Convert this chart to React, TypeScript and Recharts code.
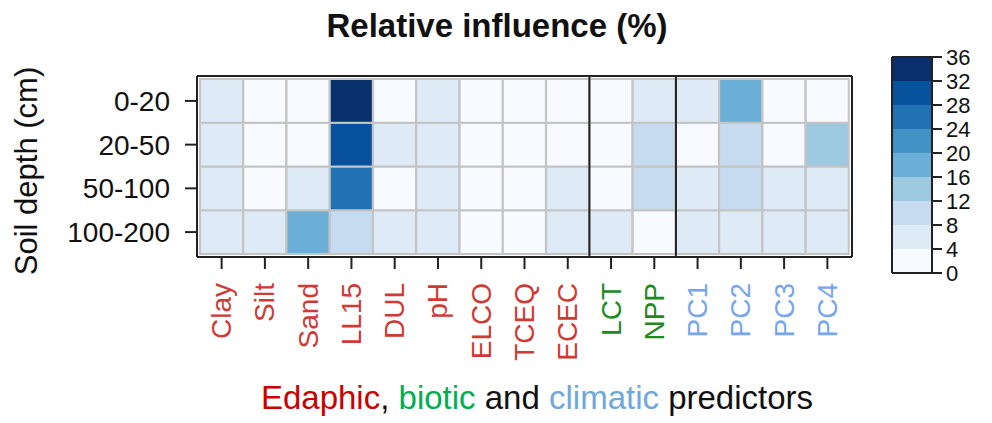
import { BarChart, Bar, XAxis, YAxis, Cell, ReferenceLine } from 'recharts'

const predictors = ['Clay', 'Silt', 'Sand', 'LL15', 'DUL', 'pH', 'ELCO', 'TCEQ', 'ECEC', 'LCT', 'NPP', 'PC1', 'PC2', 'PC3', 'PC4']
const groups = ['e', 'e', 'e', 'e', 'e', 'e', 'e', 'e', 'e', 'b', 'b', 'c', 'c', 'c', 'c']
const depths = ['0-20', '20-50', '50-100', '100-200']

// relative influence (%) per depth, same order as predictors
const d0_20 = [6, 2, 3, 34, 2, 5, 2, 1, 2, 2, 6, 6, 18, 2, 2]
const d20_50 = [5, 2, 3, 30, 5, 5, 2, 1, 2, 2, 10, 3, 10, 2, 14]
const d50_100 = [5, 2, 5, 26, 3, 5, 2, 2, 5, 2, 10, 6, 10, 6, 6]
const d100_200 = [6, 5, 18, 10, 5, 5, 2, 2, 5, 5, 2, 6, 6, 6, 6]

const breaks = [0, 4, 8, 12, 16, 20, 24, 28, 32, 36]
const blues = ['#F7FBFF', '#DEEBF7', '#C6DBEF', '#9ECAE1', '#6BAED6', '#4292C6', '#2171B5', '#08519C', '#08306B']

const groupColor: Record<string, string> = { e: '#D03A36', b: '#1E8A1E', c: '#76A6EE' }
const FONT = '"Liberation Sans", Arial, sans-serif'
const AXIS = { stroke: '#222', strokeWidth: 2 }

const colorOf = (v: number) => {
  for (let i = 0; i < blues.length; i++) if (v < breaks[i + 1]) return blues[i]
  return blues[blues.length - 1]
}

// stacked from the bottom row up
const rows = [
  { key: 'r3', vals: d100_200 },
  { key: 'r2', vals: d50_100 },
  { key: 'r1', vals: d20_50 },
  { key: 'r0', vals: d0_20 },
]
const heatData = predictors.map((p) => ({ name: p, r3: 1, r2: 1, r1: 1, r0: 1 }))

const legendData = [Object.fromEntries(blues.map((_, i) => [`b${i}`, breaks[i + 1] - breaks[i]]))]

const XTick = (props: any) => {
  const { x, y, payload, index } = props
  return (
    <text x={x} y={y} transform={`rotate(-90 ${x} ${y})`} textAnchor="end" dominantBaseline="central"
      fill={groupColor[groups[index]]} fontSize={28}>{payload.value}</text>
  )
}

export default function App() {
  return (
    <div style={{ position: 'absolute', left: 0, top: 0, width: 992, height: 423, background: '#fff', fontFamily: FONT }}>
      <div style={{ position: 'absolute', left: 0, top: 9, width: 994, textAlign: 'center', fontSize: 33, lineHeight: '33px', fontWeight: 'bold', color: '#111' }}>
        Relative influence (%)
      </div>
      <div style={{ position: 'absolute', left: 26, top: 171, transform: 'translate(-50%, -50%) rotate(-90deg)', whiteSpace: 'nowrap', fontSize: 31, lineHeight: '31px', color: '#111' }}>
        Soil depth (cm)
      </div>

      <div style={{ position: 'absolute', left: 0, top: 0 }}>
        <BarChart width={992} height={423} data={heatData} barCategoryGap={0} barGap={0}
          margin={{ top: 75, right: 139, bottom: 66, left: 0 }}>
          <XAxis dataKey="name" type="category" height={100} padding={{ left: 3, right: 3 }}
            axisLine={AXIS} tickLine={AXIS} tickSize={12} tickMargin={14} interval={0} tick={<XTick />} />
          <XAxis xAxisId="t" dataKey="name" orientation="top" height={1} axisLine={AXIS} tick={false} tickLine={false} />
          <YAxis type="number" domain={[-0.07, 4.07]} ticks={[3.5, 2.5, 1.5, 0.5]} width={197}
            tickFormatter={(v: number) => depths[3 - Math.floor(v)]} allowDataOverflow
            axisLine={AXIS} tickLine={AXIS} tickSize={12} tickMargin={15}
            tick={{ fill: '#111', fontSize: 28 }} />
          <YAxis yAxisId="r" orientation="right" type="number" domain={[0, 4]} width={1} axisLine={AXIS} tick={false} tickLine={false} />
          {rows.map((r) => (
            <Bar key={r.key} dataKey={r.key} stackId="a" isAnimationActive={false}>
              {r.vals.map((v, i) => (
                <Cell key={i} fill={colorOf(v)} stroke="#C4C4C4" strokeWidth={2} />
              ))}
            </Bar>
          ))}
          <ReferenceLine x="LCT" position="start" stroke="#222" strokeWidth={2} />
          <ReferenceLine x="PC1" position="start" stroke="#222" strokeWidth={2} />
        </BarChart>
      </div>

      <div style={{ position: 'absolute', left: 850, top: 40 }}>
        <BarChart width={142} height={260} data={legendData} barCategoryGap={0} barGap={0}
          margin={{ top: 16, right: 0, bottom: 0, left: 0 }}>
          <XAxis height={27} axisLine={AXIS} tick={false} tickLine={false} />
          <XAxis xAxisId="t" orientation="top" height={1} axisLine={AXIS} tick={false} tickLine={false} />
          <YAxis yAxisId="l" type="number" domain={[0, 36]} width={42} axisLine={AXIS} tick={false} tickLine={false} />
          <YAxis yAxisId="r" orientation="right" type="number" domain={[0, 36]} ticks={breaks} interval={0} width={60}
            axisLine={AXIS} tickLine={AXIS} tickSize={10} tickMargin={4} tick={{ fill: '#111', fontSize: 22 }} />
          {blues.map((c, i) => (
            <Bar key={i} dataKey={`b${i}`} stackId="s" yAxisId="r" fill={c} isAnimationActive={false} />
          ))}
        </BarChart>
      </div>

      <div style={{ position: 'absolute', left: 0, top: 381, width: 1074, textAlign: 'center', fontSize: 33, lineHeight: '33px', whiteSpace: 'nowrap', color: '#111' }}>
        <span style={{ color: '#CC0000' }}>Edaphic</span>, <span style={{ color: '#00B050' }}>biotic</span> and <span style={{ color: '#6FA8DC' }}>climatic</span> predictors
      </div>
    </div>
  )
}
